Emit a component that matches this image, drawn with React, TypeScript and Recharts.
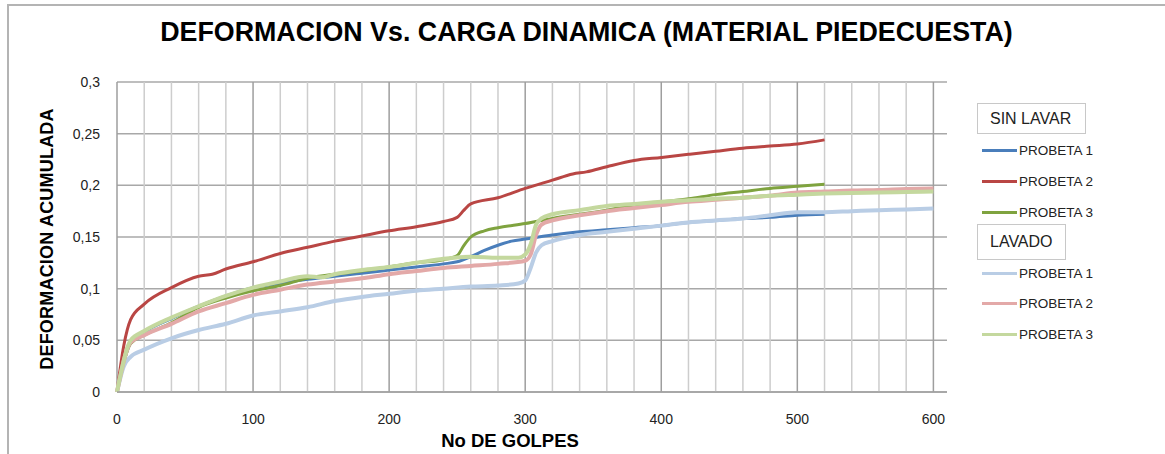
import React from 'react';
import { LineChart, Line, XAxis, YAxis, CartesianGrid, ReferenceLine } from 'recharts';

type Pt = { g: number; d: number };

// SIN LAVAR
const sinLavar1: Pt[] = [
  { g: 0, d: 0 }, { g: 10, d: 0.048 }, { g: 20, d: 0.058 }, { g: 40, d: 0.071 }, { g: 60, d: 0.083 },
  { g: 80, d: 0.093 }, { g: 100, d: 0.101 }, { g: 120, d: 0.105 }, { g: 140, d: 0.109 }, { g: 160, d: 0.112 },
  { g: 180, d: 0.115 }, { g: 200, d: 0.118 }, { g: 220, d: 0.121 }, { g: 240, d: 0.124 }, { g: 250, d: 0.126 },
  { g: 260, d: 0.131 }, { g: 270, d: 0.137 }, { g: 280, d: 0.142 }, { g: 290, d: 0.146 }, { g: 300, d: 0.148 },
  { g: 320, d: 0.152 }, { g: 340, d: 0.155 }, { g: 360, d: 0.157 }, { g: 380, d: 0.159 }, { g: 400, d: 0.161 },
  { g: 420, d: 0.164 }, { g: 440, d: 0.166 }, { g: 460, d: 0.168 }, { g: 480, d: 0.169 }, { g: 500, d: 0.171 },
  { g: 520, d: 0.172 },
];
const sinLavar2: Pt[] = [
  { g: 0, d: 0 }, { g: 5, d: 0.045 }, { g: 10, d: 0.07 }, { g: 20, d: 0.085 }, { g: 40, d: 0.101 },
  { g: 60, d: 0.112 }, { g: 70, d: 0.114 }, { g: 80, d: 0.119 }, { g: 100, d: 0.126 }, { g: 120, d: 0.134 },
  { g: 140, d: 0.14 }, { g: 160, d: 0.146 }, { g: 180, d: 0.151 }, { g: 200, d: 0.156 }, { g: 220, d: 0.16 },
  { g: 240, d: 0.165 }, { g: 250, d: 0.169 }, { g: 255, d: 0.176 }, { g: 260, d: 0.182 }, { g: 280, d: 0.188 },
  { g: 300, d: 0.197 }, { g: 320, d: 0.205 }, { g: 335, d: 0.211 }, { g: 345, d: 0.213 }, { g: 360, d: 0.218 },
  { g: 380, d: 0.224 }, { g: 400, d: 0.227 }, { g: 420, d: 0.23 }, { g: 440, d: 0.233 }, { g: 460, d: 0.236 },
  { g: 480, d: 0.238 }, { g: 500, d: 0.24 }, { g: 520, d: 0.244 },
];
const sinLavar3: Pt[] = [
  { g: 0, d: 0 }, { g: 10, d: 0.047 }, { g: 20, d: 0.055 }, { g: 40, d: 0.067 }, { g: 60, d: 0.082 },
  { g: 80, d: 0.091 }, { g: 100, d: 0.098 }, { g: 120, d: 0.103 }, { g: 140, d: 0.11 }, { g: 160, d: 0.114 },
  { g: 180, d: 0.117 }, { g: 200, d: 0.121 }, { g: 220, d: 0.125 }, { g: 240, d: 0.128 }, { g: 250, d: 0.132 },
  { g: 255, d: 0.142 }, { g: 260, d: 0.15 }, { g: 270, d: 0.156 }, { g: 280, d: 0.159 }, { g: 300, d: 0.163 },
  { g: 320, d: 0.168 }, { g: 340, d: 0.172 }, { g: 360, d: 0.176 }, { g: 380, d: 0.181 }, { g: 400, d: 0.184 },
  { g: 420, d: 0.187 }, { g: 440, d: 0.191 }, { g: 460, d: 0.194 }, { g: 480, d: 0.197 }, { g: 500, d: 0.199 },
  { g: 520, d: 0.201 },
];

// LAVADO
const lavado1: Pt[] = [
  { g: 0, d: 0 }, { g: 5, d: 0.025 }, { g: 10, d: 0.034 }, { g: 20, d: 0.041 }, { g: 40, d: 0.052 },
  { g: 60, d: 0.06 }, { g: 80, d: 0.066 }, { g: 100, d: 0.074 }, { g: 120, d: 0.078 }, { g: 140, d: 0.082 },
  { g: 160, d: 0.088 }, { g: 180, d: 0.092 }, { g: 200, d: 0.095 }, { g: 220, d: 0.098 }, { g: 240, d: 0.1 },
  { g: 260, d: 0.102 }, { g: 280, d: 0.103 }, { g: 295, d: 0.105 }, { g: 300, d: 0.108 }, { g: 304, d: 0.12 },
  { g: 308, d: 0.135 }, { g: 312, d: 0.142 }, { g: 320, d: 0.146 }, { g: 340, d: 0.152 }, { g: 360, d: 0.155 },
  { g: 380, d: 0.158 }, { g: 400, d: 0.161 }, { g: 420, d: 0.164 }, { g: 440, d: 0.166 }, { g: 460, d: 0.168 },
  { g: 480, d: 0.171 }, { g: 500, d: 0.174 }, { g: 520, d: 0.174 }, { g: 540, d: 0.175 }, { g: 560, d: 0.176 },
  { g: 580, d: 0.1765 }, { g: 600, d: 0.1775 },
];
const lavado2: Pt[] = [
  { g: 0, d: 0 }, { g: 10, d: 0.048 }, { g: 20, d: 0.055 }, { g: 40, d: 0.066 }, { g: 60, d: 0.078 },
  { g: 80, d: 0.086 }, { g: 100, d: 0.094 }, { g: 120, d: 0.099 }, { g: 140, d: 0.104 }, { g: 160, d: 0.107 },
  { g: 180, d: 0.11 }, { g: 200, d: 0.114 }, { g: 220, d: 0.117 }, { g: 240, d: 0.12 }, { g: 260, d: 0.122 },
  { g: 280, d: 0.124 }, { g: 300, d: 0.127 }, { g: 304, d: 0.133 }, { g: 308, d: 0.152 }, { g: 312, d: 0.162 },
  { g: 320, d: 0.166 }, { g: 340, d: 0.171 }, { g: 360, d: 0.175 }, { g: 380, d: 0.178 }, { g: 400, d: 0.181 },
  { g: 420, d: 0.184 }, { g: 440, d: 0.186 }, { g: 460, d: 0.188 }, { g: 480, d: 0.19 }, { g: 500, d: 0.193 },
  { g: 520, d: 0.194 }, { g: 540, d: 0.195 }, { g: 560, d: 0.1955 }, { g: 580, d: 0.1965 }, { g: 600, d: 0.197 },
];
const lavado3: Pt[] = [
  { g: 0, d: 0 }, { g: 10, d: 0.05 }, { g: 20, d: 0.059 }, { g: 40, d: 0.072 }, { g: 60, d: 0.083 },
  { g: 80, d: 0.093 }, { g: 100, d: 0.101 }, { g: 120, d: 0.107 }, { g: 140, d: 0.112 }, { g: 150, d: 0.111 },
  { g: 160, d: 0.114 }, { g: 180, d: 0.118 }, { g: 200, d: 0.121 }, { g: 220, d: 0.125 }, { g: 240, d: 0.129 },
  { g: 260, d: 0.131 }, { g: 280, d: 0.13 }, { g: 295, d: 0.13 }, { g: 300, d: 0.133 }, { g: 304, d: 0.143 },
  { g: 308, d: 0.162 }, { g: 312, d: 0.168 }, { g: 320, d: 0.172 }, { g: 340, d: 0.176 }, { g: 360, d: 0.18 },
  { g: 380, d: 0.182 }, { g: 400, d: 0.184 }, { g: 420, d: 0.1855 }, { g: 440, d: 0.187 }, { g: 460, d: 0.188 },
  { g: 480, d: 0.19 }, { g: 500, d: 0.191 }, { g: 520, d: 0.192 }, { g: 540, d: 0.1926 }, { g: 560, d: 0.193 },
  { g: 580, d: 0.1935 }, { g: 600, d: 0.194 },
];

const xTicks = [0, 100, 200, 300, 400, 500, 600];
const xMinor = [20, 40, 60, 80, 120, 140, 160, 180, 220, 240, 260, 280, 320, 340, 360, 380, 420, 440, 460, 480, 520, 540, 560, 580];
const yTicks = [0, 0.05, 0.1, 0.15, 0.2, 0.25, 0.3];

const groups = [
  {
    title: 'SIN LAVAR',
    series: [
      { name: 'PROBETA 1', data: sinLavar1, color: '#4a7ebb', width: 3 },
      { name: 'PROBETA 2', data: sinLavar2, color: '#b94644', width: 3 },
      { name: 'PROBETA 3', data: sinLavar3, color: '#7fa33f', width: 3 },
    ],
  },
  {
    title: 'LAVADO',
    series: [
      { name: 'PROBETA 1', data: lavado1, color: '#b9cde5', width: 4 },
      { name: 'PROBETA 2', data: lavado2, color: '#e3a9a8', width: 4 },
      { name: 'PROBETA 3', data: lavado3, color: '#c4d89e', width: 4 },
    ],
  },
];

const font = '"Liberation Sans", Arial, sans-serif';
const fmt = (v: number) => String(v).replace('.', ',');

const legendBox = [
  { top: 103, width: 109, height: 31, rows: [150, 181, 212] },
  { top: 224, width: 89, height: 36, rows: [273, 303, 334] },
];

const App: React.FC = () => {
  return (
    <div style={{ position: 'absolute', left: 0, top: 0, width: 1165, height: 454, overflow: 'hidden', background: '#fff', fontFamily: font }}>
      <div style={{ position: 'absolute', left: 7, top: 4, width: 1200, height: 500, border: '2px solid #b4b4b4' }} />
      <div style={{ position: 'absolute', left: 0, width: 1173, top: 17, textAlign: 'center', fontSize: 26.8, fontWeight: 'bold', color: '#000' }}>
        DEFORMACION Vs. CARGA DINAMICA (MATERIAL PIEDECUESTA)
      </div>
      <LineChart
        width={1165}
        height={454}
        margin={{ top: 82, right: 218, left: 57, bottom: 32 }}
        style={{ position: 'absolute', left: 0, top: 0 }}
      >
        <CartesianGrid vertical={false} stroke="#a8a8a8" strokeWidth={1.5} />
        <XAxis
          dataKey="g"
          type="number"
          domain={[0, 610]}
          ticks={xTicks}
          height={30}
          tickSize={0}
          tickMargin={22}
          axisLine={{ stroke: '#a0a0a0', strokeWidth: 1.5 }}
          tickLine={false}
          tick={{ fill: '#222', fontSize: 14, fontFamily: font }}
          allowDuplicatedCategory={false}
        />
        <YAxis
          type="number"
          domain={[0, 0.3]}
          ticks={yTicks}
          width={60}
          tickSize={0}
          tickMargin={17}
          axisLine={false}
          tickLine={false}
          tickFormatter={fmt}
          tick={{ fill: '#222', fontSize: 14, fontFamily: font }}
        />
        {xMinor.map((v) => (
          <ReferenceLine key={'m' + v} x={v} stroke="#cdcdcd" strokeWidth={1.5} />
        ))}
        {xTicks.map((v) => (
          <ReferenceLine key={'M' + v} x={v} stroke="#9e9e9e" strokeWidth={1.5} />
        ))}
        {groups.flatMap((grp, gi) =>
          grp.series.map((s, si) => (
            <Line
              key={`${gi}-${si}`}
              data={s.data}
              dataKey="d"
              type="monotone"
              stroke={s.color}
              strokeWidth={s.width}
              dot={false}
              activeDot={false}
              isAnimationActive={false}
            />
          ))
        )}
      </LineChart>
      <div
        style={{
          position: 'absolute', left: 47, top: 239, transform: 'translate(-50%, -50%) rotate(-90deg)',
          fontSize: 18, fontWeight: 'bold', whiteSpace: 'nowrap', letterSpacing: 0.2, color: '#000',
        }}
      >
        DEFORMACION ACUMULADA
      </div>
      <div
        style={{
          position: 'absolute', left: 510, top: 441, transform: 'translate(-50%, -50%)',
          fontSize: 18.5, fontWeight: 'bold', whiteSpace: 'nowrap', color: '#000',
        }}
      >
        No DE GOLPES
      </div>
      {groups.map((grp, gi) => (
        <React.Fragment key={grp.title}>
          <div
            style={{
              position: 'absolute', left: 977, top: legendBox[gi].top, width: legendBox[gi].width, height: legendBox[gi].height,
              boxSizing: 'border-box', border: '1.5px solid #c8c8c8', paddingLeft: 12, display: 'flex', alignItems: 'center',
              fontSize: 16, color: '#222',
            }}
          >
            {grp.title}
          </div>
          {grp.series.map((s, si) => (
            <div
              key={s.name}
              style={{ position: 'absolute', left: 982, top: legendBox[gi].rows[si] - 10, height: 20, display: 'flex', alignItems: 'center' }}
            >
              <div style={{ width: 35, height: 3, background: s.color }} />
              <span style={{ marginLeft: 2, fontSize: 13.5, color: '#222', whiteSpace: 'nowrap' }}>{s.name}</span>
            </div>
          ))}
        </React.Fragment>
      ))}
    </div>
  );
};

export default App;
